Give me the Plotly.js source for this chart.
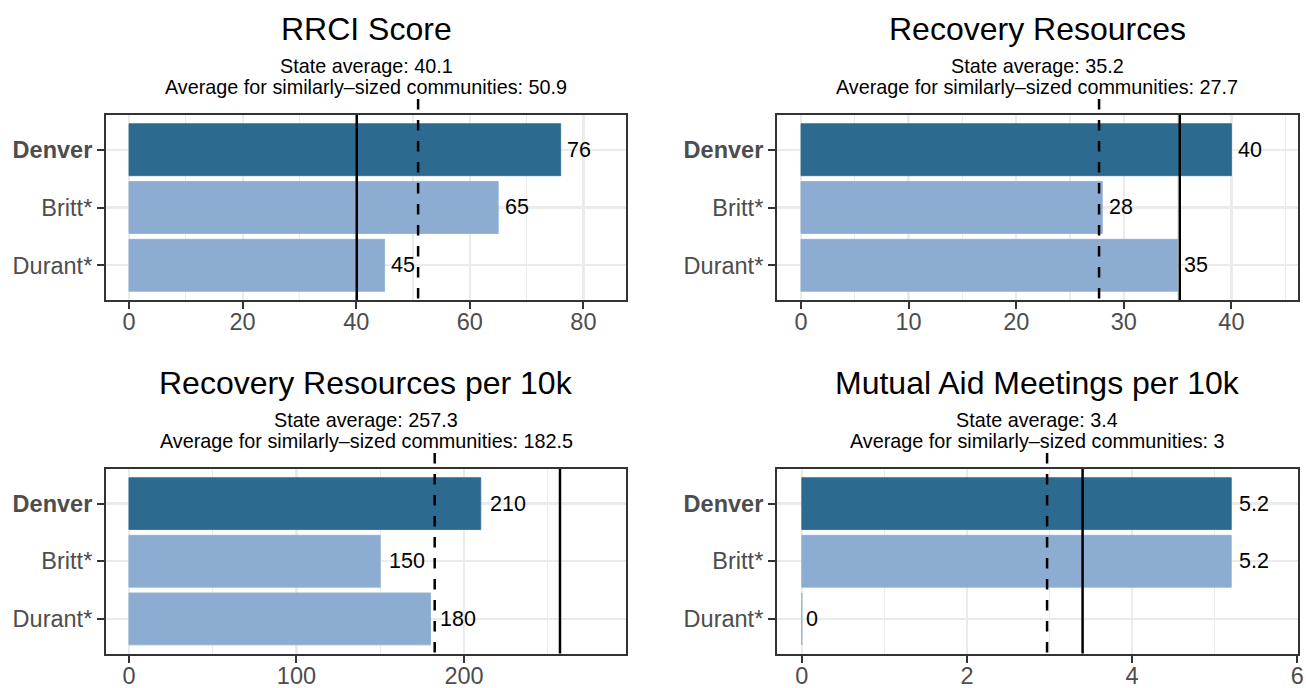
<!DOCTYPE html>
<html>
<head>
<meta charset="utf-8">
<script src="https://cdn.plot.ly/plotly-3.0.1.min.js"></script>
<style>html,body{margin:0;padding:0;background:#fff;}#chart{width:1306px;height:688px;}</style>
</head>
<body>
<div id="chart"></div>
<script>
// ---------- data ----------
const categories = ["Denver", "Britt*", "Durant*"];
const categoryLabels = ["<b>Denver</b>", "Britt*", "Durant*"];
const panelTitles = ["RRCI Score", "Recovery Resources", "Recovery Resources per 10k", "Mutual Aid Meetings per 10k"];
const rrciScore = [76, 65, 45];
const recoveryResources = [40, 28, 35];
const resourcesPer10k = [210, 150, 180];
const mutualAidPer10k = [5.2, 5.2, 0];
const stateAverage = [40.1, 35.2, 257.3, 3.4];
const similarAverage = [50.9, 27.7, 182.5, 2.97];
const xTickValues = [[0, 20, 40, 60, 80], [0, 10, 20, 30, 40], [0, 100, 200], [0, 2, 4, 6]];
const xMinorStep = [10, 5, 50, 1];
const xRanges = [[-4.05, 87.5], [-2.23, 46.14], [-13.7, 296.7], [-0.3, 6.002]];

const seriesValues = [rrciScore, recoveryResources, resourcesPer10k, mutualAidPer10k];

// ---------- styling / layout ----------
const W = 1306, H = 688;
const FONT = "Liberation Sans, Arial, Helvetica, sans-serif";
const darkBlue = "#2D6A8F", lightBlue = "#8CADD1";
const barColors = [darkBlue, lightBlue, lightBlue];
const panelPx = [
  {x0: 106, x1: 626, y0: 115, y1: 300},
  {x0: 777, x1: 1297.5, y0: 115, y1: 300},
  {x0: 106, x1: 626, y0: 469, y1: 653.5},
  {x0: 777, x1: 1297.5, y0: 469, y1: 653.5}
];

function fmt(v) { return String(Number(v.toFixed(1))); }

const traces = [];
const layout = {
  width: W, height: H,
  margin: {l: 0, r: 0, t: 0, b: 0},
  paper_bgcolor: "#fff", plot_bgcolor: "#fff",
  showlegend: false,
  font: {family: FONT},
  shapes: [], annotations: []
};

seriesValues.forEach((vals, i) => {
  const n = i + 1;
  const xa = "x" + (n === 1 ? "" : n), ya = "y" + (n === 1 ? "" : n);
  const p = panelPx[i];
  traces.push({
    type: "bar", orientation: "h",
    x: vals, y: categories,
    xaxis: xa, yaxis: ya,
    width: 0.9,
    marker: {color: barColors, line: {width: 0.8, color: barColors}},
    hoverinfo: "skip"
  });
  const axX = {
    domain: [p.x0 / W, p.x1 / W],
    anchor: ya,
    range: xRanges[i],
    tickmode: "array", tickvals: xTickValues[i], ticktext: xTickValues[i].map(String),
    ticks: "outside", ticklen: 7, tickwidth: 2, tickcolor: "#333333",
    ticklabelstandoff: -7,
    tickfont: {family: FONT, size: 23.5, color: "#4D4D4D"},
    showgrid: true, gridcolor: "#EBEBEB", gridwidth: 2.2,
    minor: {tickmode: "linear", tick0: 0, dtick: xMinorStep[i], showgrid: true, gridcolor: "#EBEBEB", gridwidth: 1.1, ticks: ""},
    zeroline: false,
    showline: true, linecolor: "#333333", linewidth: 2, mirror: true,
    fixedrange: true
  };
  const axY = {
    domain: [1 - p.y1 / H, 1 - p.y0 / H],
    anchor: xa,
    type: "category",
    categoryorder: "array", categoryarray: categories,
    range: [2.6, -0.6],
    tickmode: "array", tickvals: categories, ticktext: categoryLabels,
    ticks: "outside", ticklen: 7, tickwidth: 2, tickcolor: "#333333",
    tickfont: {family: FONT, size: 23.5, color: "#4D4D4D"},
    showgrid: true, gridcolor: "#EBEBEB", gridwidth: 2.2,
    zeroline: false,
    showline: true, linecolor: "#333333", linewidth: 2, mirror: true,
    fixedrange: true
  };
  layout["xaxis" + (n === 1 ? "" : n)] = axX;
  layout["yaxis" + (n === 1 ? "" : n)] = axY;

  // reference lines
  layout.shapes.push({
    type: "line", xref: xa, yref: ya + " domain",
    x0: stateAverage[i], x1: stateAverage[i], y0: 0, y1: 1,
    line: {color: "#000", width: 2.5}, layer: "above"
  });
  const ph = p.y1 - p.y0;
  layout.shapes.push({
    type: "line", xref: xa, yref: ya + " domain",
    x0: similarAverage[i], x1: similarAverage[i], y0: 1 + 16 / ph, y1: 0,
    line: {color: "#000", width: 2.5, dash: "10.5px,10.5px"}, layer: "above"
  });

  // value labels
  vals.forEach((v, j) => {
    const t = fmt(v);
    const w = t.split("").reduce((s, c) => s + (c === "." ? 0.278 : 0.556), 0) * 21.5;
    layout.annotations.push({
      xref: xa, yref: ya, x: v, y: categories[j],
      text: t, showarrow: false, xanchor: "left", yanchor: "middle",
      xshift: 0.2 * w, font: {family: FONT, size: 21.5, color: "#000"}
    });
  });

  // titles
  const cx = ((p.x0 + p.x1) / 2) / W;
  layout.annotations.push({
    xref: "paper", yref: "paper", x: cx, y: 1 - (p.y0 - 86) / H,
    text: panelTitles[i], showarrow: false, xanchor: "center", yanchor: "middle",
    font: {family: FONT, size: 32, color: "#000"}
  });
  layout.annotations.push({
    xref: "paper", yref: "paper", x: cx, y: 1 - (p.y0 - 49) / H,
    text: "State average: " + fmt(stateAverage[i]), showarrow: false, xanchor: "center", yanchor: "middle",
    font: {family: FONT, size: 19.8, color: "#000"}
  });
  layout.annotations.push({
    xref: "paper", yref: "paper", x: cx, y: 1 - (p.y0 - 28) / H,
    text: "Average for similarly\u2013sized communities: " + fmt(similarAverage[i]), showarrow: false, xanchor: "center", yanchor: "middle",
    font: {family: FONT, size: 19.8, color: "#000"}
  });
});

Plotly.newPlot("chart", traces, layout, {staticPlot: true, displayModeBar: false});
</script>
</body>
</html>
